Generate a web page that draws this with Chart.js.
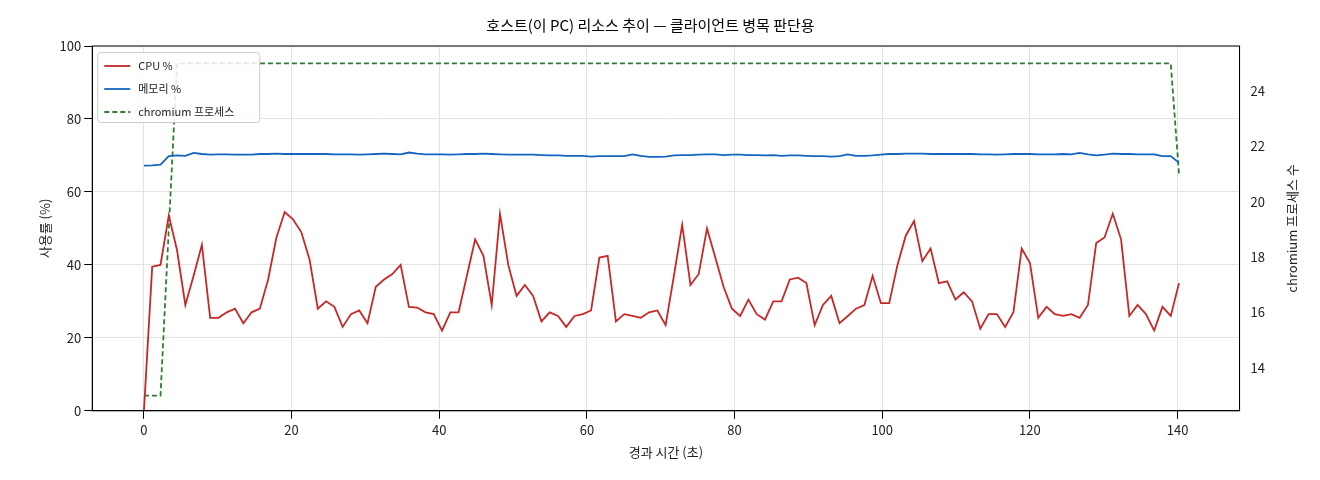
<!DOCTYPE html><html><head><meta charset="utf-8">
<script src="https://cdn.jsdelivr.net/npm/chart.js@4/dist/chart.umd.min.js"></script>
<style>body{margin:0;background:#fff}#w{width:1320px;height:480px}</style></head><body><div id="w"><canvas id="c"></canvas></div>
<script>
const dt = 1.1216;
const cpu = [0,39.5,40,53.5,44,29,37,45.5,25.5,25.5,27,28,24,27,28,36,47.5,54.5,52.5,49,41.5,28,30,28.5,23,26.5,27.5,24,34,36,37.5,40,28.5,28.3,27,26.5,22,27,27,37,47,42.5,29,54,40,31.5,34.5,31.5,24.5,27,26,23,26,26.5,27.5,42,42.5,24.5,26.5,26,25.5,27,27.5,23.5,37,51,34.5,37.5,50,42,34,28,26,30.5,26.5,25,30,30,36,36.5,35,23.5,29,31.5,24,26,28,29,37,29.5,29.5,40,48,52,41,44.5,35,35.5,30.5,32.5,30,22.5,26.5,26.5,23,27,44.5,40.5,25.5,28.5,26.5,26,26.5,25.5,29,46,47.5,54,47,26,29,26.5,22,28.5,26,35];
const mem = [67.2,67.3,67.5,69.8,70,69.9,70.7,70.4,70.2,70.3,70.3,70.2,70.2,70.2,70.4,70.4,70.5,70.4,70.4,70.4,70.4,70.4,70.4,70.3,70.3,70.3,70.2,70.3,70.4,70.5,70.4,70.3,70.8,70.5,70.3,70.3,70.3,70.2,70.3,70.4,70.4,70.5,70.4,70.3,70.2,70.2,70.2,70.2,70.1,70,70,69.9,69.9,69.9,69.7,69.8,69.8,69.8,69.8,70.3,69.9,69.6,69.6,69.7,70,70.1,70.1,70.2,70.3,70.3,70.1,70.2,70.2,70.1,70.1,70,70.1,69.9,70,70,69.9,69.8,69.8,69.7,69.8,70.3,69.9,69.9,70,70.2,70.4,70.4,70.5,70.5,70.5,70.4,70.4,70.4,70.4,70.4,70.4,70.3,70.3,70.2,70.3,70.4,70.4,70.4,70.3,70.3,70.3,70.4,70.3,70.7,70.3,70,70.2,70.5,70.4,70.4,70.3,70.3,70.3,69.8,69.8,68];
const proc = [13,13,13,19].concat(Array(121).fill(25)).concat([21]);
const labels = ["CPU %","메모리 %","chromium 프로세스"];
const pts = a => a.map((v,i)=>({x:i*dt,y:v}));
const F = "'Noto Sans CJK KR','DejaVu Sans',sans-serif";
Chart.defaults.font.family = F; Chart.defaults.color = '#222';
const legendPlugin = {id:'lg', afterDraw(ch){const c=ch.ctx,a=ch.chartArea;const x=a.left+5,y=a.top+6;
 c.save();c.fillStyle='rgba(255,255,255,0.85)';c.strokeStyle='#ccc';c.lineWidth=1;
 c.beginPath();c.roundRect(x+0.5,y+0.5,162,70,3);c.fill();c.stroke();
 const cols=['#c62828','#1565c0','#2e7d32'];c.font="11px "+F;c.textBaseline='middle';
 labels.forEach((t,i)=>{const yy=y+14+i*23;c.strokeStyle=cols[i];c.lineWidth=1.8;c.setLineDash(i==2?[5,3]:[]);
 c.beginPath();c.moveTo(x+7,yy);c.lineTo(x+33,yy);c.stroke();c.setLineDash([]);c.fillStyle='#222';c.fillText(t,x+41,yy);});
 c.restore();}};
const frame = {id:'fr', afterDraw(ch){const c=ch.ctx,a=ch.chartArea;c.save();c.strokeStyle='#000';c.lineWidth=1;c.strokeRect(a.left,a.top,a.right-a.left,a.bottom-a.top);
 c.translate(1292,(a.top+a.bottom)/2);c.rotate(-Math.PI/2);c.font="13px "+F;c.fillStyle='#222';c.textAlign='center';c.textBaseline='middle';c.fillText('chromium 프로세스 수',0,0);c.restore();}};
new Chart(document.getElementById('c'),{type:'line',
 data:{datasets:[
  {label:labels[0],data:pts(cpu),borderColor:'#c62828',borderWidth:1.8,pointRadius:0,yAxisID:'y'},
  {label:labels[1],data:pts(mem),borderColor:'#1565c0',borderWidth:1.8,pointRadius:0,yAxisID:'y'},
  {label:labels[2],data:pts(proc),borderColor:'#2e7d32',borderWidth:1.8,borderDash:[5,3],pointRadius:0,yAxisID:'y1'}]},
 options:{responsive:true,maintainAspectRatio:false,animation:false,
  layout:{padding:{left:33,right:52,top:0,bottom:16}},
  plugins:{legend:{display:false},tooltip:{enabled:false},
   title:{display:true,text:'호스트(이 PC) 리소스 추이 — 클라이언트 병목 판단용',font:{size:15,weight:'normal'},color:'#000',padding:{top:16,bottom:12}}},
  scales:{
   x:{type:'linear',min:-7,max:148.4,grid:{color:'#e4e4e4',drawTicks:true,tickColor:'#000'},border:{color:'#000'},
     afterBuildTicks:s=>{s.ticks=[0,20,40,60,80,100,120,140].map(v=>({value:v}));},
     ticks:{font:{size:13},color:'#222'},title:{display:true,text:'경과 시간 (초)',font:{size:13}}},
   y:{min:0,max:100,grid:{color:'#e4e4e4',tickColor:'#000'},border:{color:'#000'},ticks:{stepSize:20,font:{size:13},color:'#222'},
     title:{display:true,text:'사용률 (%)',font:{size:13}}},
   y1:{position:'right',min:12.45,max:25.63,grid:{display:false,drawOnChartArea:false,tickColor:'#000'},border:{color:'#000'},
     afterBuildTicks:s=>{s.ticks=[14,16,18,20,22,24].map(v=>({value:v}));},
     ticks:{font:{size:13},color:'#222'}}}},
 plugins:[legendPlugin,frame]});
</script></body></html>
